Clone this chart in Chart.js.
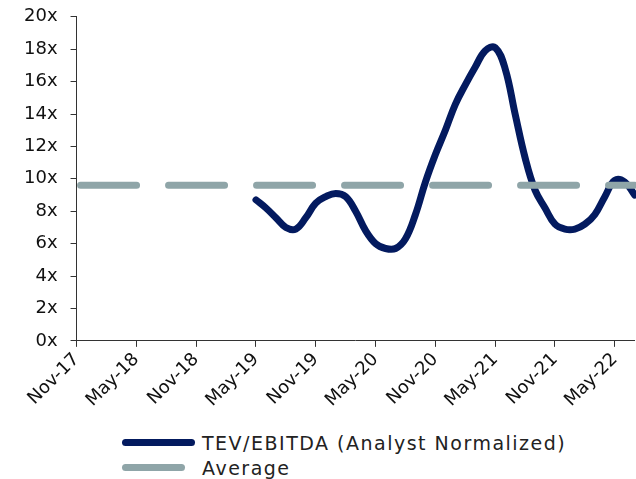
<!DOCTYPE html>
<html>
<head>
<meta charset="utf-8">
<script src="https://cdn.jsdelivr.net/npm/chart.js@4/dist/chart.umd.min.js"></script>
<style>
    body { margin: 0; background: #fff; font-family: "DejaVu Sans", sans-serif; }
    #wrap { position: relative; width: 636px; height: 479px; overflow: hidden; }
    #box { position: absolute; left: 0; top: -7px; width: 652px; height: 420px; }
    #legend { position: absolute; left: 122px; top: 430px; }
    .leg-row { display: flex; align-items: center; height: 25px; font-size: 19px; letter-spacing: 1.5px; color: #222; }
    .leg-line { height: 7px; border-radius: 4px; }
</style>
</head>
<body>
<div id="wrap">
    <div id="box"><canvas id="multipleChart"></canvas></div>
    <div id="legend"></div>
</div>
<script>
const months = ['Nov-17','Dec-17','Jan-18','Feb-18','Mar-18','Apr-18','May-18','Jun-18','Jul-18','Aug-18','Sep-18','Oct-18',
    'Nov-18','Dec-18','Jan-19','Feb-19','Mar-19','Apr-19','May-19','Jun-19','Jul-19','Aug-19','Sep-19','Oct-19',
    'Nov-19','Dec-19','Jan-20','Feb-20','Mar-20','Apr-20','May-20','Jun-20','Jul-20','Aug-20','Sep-20','Oct-20',
    'Nov-20','Dec-20','Jan-21','Feb-21','Mar-21','Apr-21','May-21','Jun-21','Jul-21','Aug-21','Sep-21','Oct-21',
    'Nov-21','Dec-21','Jan-22','Feb-22','Mar-22','Apr-22','May-22','Jun-22','Jul-22'];

// TEV/EBITDA, monthly, starts May-19
const tevEbitda = [null,null,null,null,null,null,null,null,null,null,null,null,
    null,null,null,null,null,null,8.7,8.2,7.6,7.0,6.9,7.6,
    8.5,8.9,9.1,8.9,8.0,6.8,6.0,5.7,5.7,6.3,7.8,9.8,
    11.5,13.0,14.6,15.8,16.9,17.9,18.1,16.8,14.0,11.3,9.3,8.2,
    7.2,6.9,6.9,7.2,7.8,8.9,9.9,9.8,9.0];

const averageValue = 9.6;
const yTicks = ['0x','2x','4x','6x','8x','10x','12x','14x','16x','18x','20x'];
const legendNames = ['TEV/EBITDA (Analyst Normalized)', 'Average'];

const navy = '#031a5f';
const grey = '#8fa5a8';
const axisColor = '#333';

const htmlLegend = {
    id: 'htmlLegend',
    afterUpdate(chart) {
        const el = document.getElementById('legend');
        el.innerHTML = '';
        chart.data.datasets.forEach((ds, i) => {
            const row = document.createElement('div');
            row.className = 'leg-row';
            const line = document.createElement('span');
            line.className = 'leg-line';
            line.style.background = ds.borderColor;
            line.style.width = i === 0 ? '73px' : '63px';
            line.style.marginRight = i === 0 ? '7px' : '17px';
            const txt = document.createElement('span');
            txt.innerText = ds.label;
            row.appendChild(line);
            row.appendChild(txt);
            el.appendChild(row);
        });
    }
};

const ctx = document.getElementById('multipleChart').getContext('2d');
new Chart(ctx, {
    type: 'line',
    data: {
        labels: months,
        datasets: [
            {
                label: legendNames[0],
                data: tevEbitda,
                borderColor: navy,
                borderWidth: 7,
                borderCapStyle: 'round',
                pointRadius: 0,
                tension: 0.4,
                fill: false,
                order: 1
            },
            {
                label: legendNames[1],
                data: months.map(() => averageValue),
                borderColor: grey,
                borderWidth: 7,
                borderDash: [56, 32],
                borderDashOffset: -4,
                borderCapStyle: 'round',
                pointRadius: 0,
                fill: false,
                order: 0
            }
        ]
    },
    options: {
        responsive: true,
        maintainAspectRatio: false,
        animation: false,
        layout: { padding: { top: 0, right: 0, left: 11, bottom: 0 } },
        plugins: {
            legend: { display: false },
            tooltip: { enabled: false }
        },
        scales: {
            x: {
                grid: {
                    drawOnChartArea: false,
                    tickLength: 6,
                    color: c => (c.index % 6 === 0 ? axisColor : 'transparent')
                },
                border: { color: axisColor, width: 1 },
                ticks: {
                    autoSkip: false,
                    minRotation: 45,
                    maxRotation: 45,
                    padding: 2,
                    color: '#111',
                    font: { family: 'DejaVu Sans', size: 18 },
                    callback: function(v, i) { return i % 6 === 0 ? months[i] : ''; }
                }
            },
            y: {
                min: 0,
                max: 20,
                grid: { drawOnChartArea: false, tickLength: 6, color: axisColor },
                border: { color: axisColor, width: 1 },
                ticks: {
                    stepSize: 2,
                    padding: 13,
                    color: '#111',
                    font: { family: 'DejaVu Sans', size: 18 },
                    callback: v => yTicks[v / 2]
                }
            }
        }
    },
    plugins: [htmlLegend]
});
</script>
</body>
</html>
